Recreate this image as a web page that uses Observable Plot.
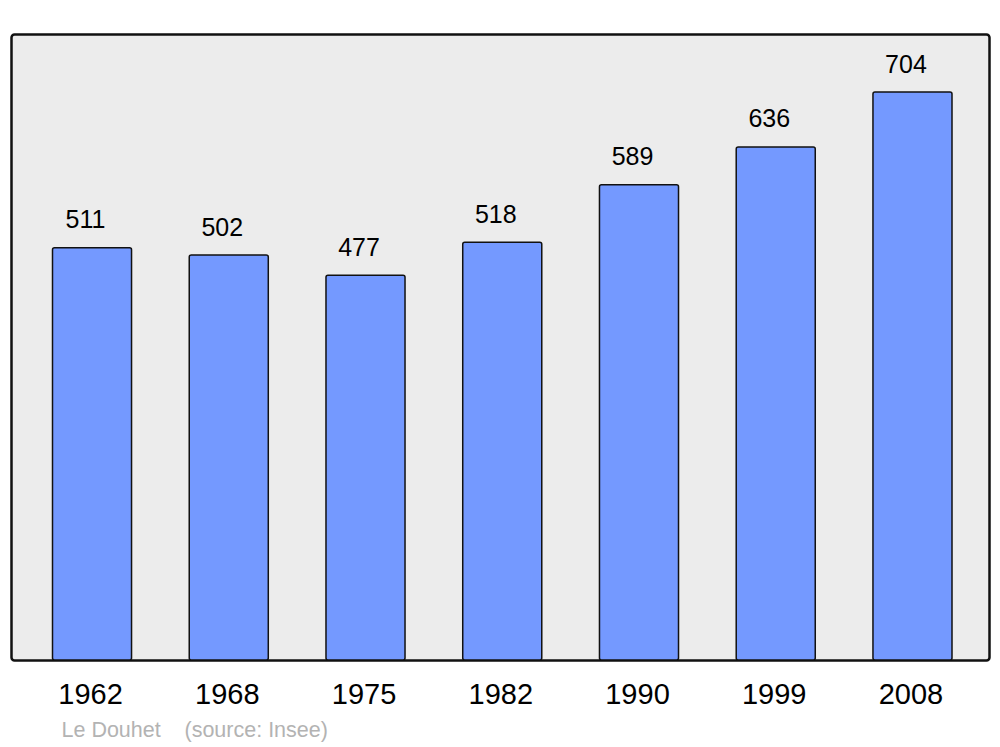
<!DOCTYPE html>
<html>
<head>
<meta charset="utf-8">
<script src="https://cdn.jsdelivr.net/npm/d3@7"></script>
<script src="https://cdn.jsdelivr.net/npm/@observablehq/plot@0.6"></script>
<style>
  html, body { margin: 0; padding: 0; background: #fff; }
  svg { display: block; font-family: "Liberation Sans", Arial, sans-serif; }
</style>
</head>
<body>
<div id="chart"></div>
<script>
const years = ["1962", "1968", "1975", "1982", "1990", "1999", "2008"];
const population = [511, 502, 477, 518, 589, 636, 704];
const commune = "Le Douhet";
const source = "(source: Insee)";

const data = years.map((year, i) => ({year, value: population[i]}));

const chart = Plot.plot({
  width: 1000,
  height: 747,
  marginLeft: 11,
  marginRight: 11,
  marginTop: 34,
  marginBottom: 87,
  style: {fontFamily: "Liberation Sans, Arial, sans-serif", background: "#fff"},
  x: {domain: years, range: [52.5, 952], paddingInner: 0.422, paddingOuter: 0, round: false, axis: null},
  y: {domain: [0, 776], axis: null},
  marks: [
    Plot.frame({fill: "#ececec", stroke: "#111", strokeWidth: 2.5, rx: 3}),
    Plot.barY(data, {x: "year", y: "value", fill: "#7499ff", stroke: "#111", strokeWidth: 1.5, rx: 2}),
    Plot.text(data, {x: "year", y: "value", text: d => String(d.value), dy: -28, dx: -7, fontSize: 25, fill: "#000"}),
    Plot.text(data, {x: "year", text: "year", frameAnchor: "bottom", dy: 43, dx: -2, fontSize: 29, fill: "#000"}),
    Plot.text([commune], {frameAnchor: "bottom-left", text: d => d, dx: 50, dy: 76, textAnchor: "start", fontSize: 21.5, fill: "#b3b3b3"}),
    Plot.text([source], {frameAnchor: "bottom-left", text: d => d, dx: 173, dy: 76, textAnchor: "start", fontSize: 21.5, fill: "#b3b3b3"})
  ]
});
document.getElementById("chart").appendChild(chart);
</script>
</body>
</html>
